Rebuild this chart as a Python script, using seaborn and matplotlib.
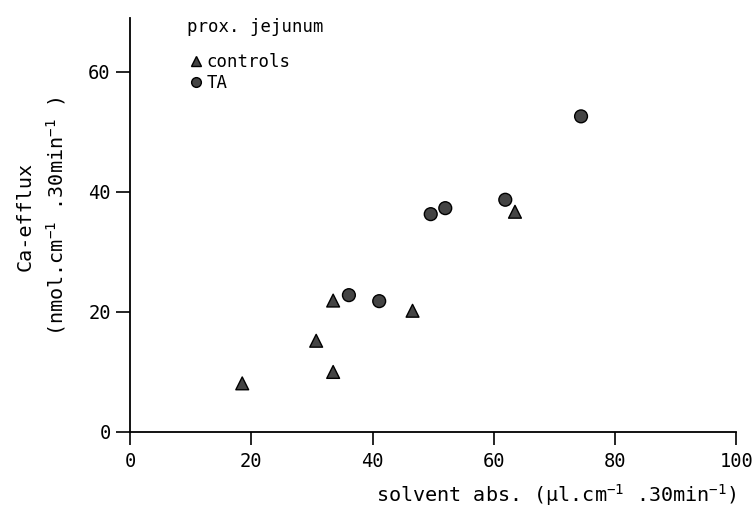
import matplotlib
matplotlib.use("Agg")
import matplotlib.pyplot as plt
import pandas as pd
import seaborn as sns

# values
ctrl_x = [18.5, 30.7, 33.5, 33.5, 46.6, 63.5]
ctrl_y = [8.1, 15.2, 21.9, 10.0, 20.2, 36.7]
ta_x = [36.1, 41.1, 49.6, 52.0, 61.9, 74.4]
ta_y = [22.8, 21.8, 36.3, 37.3, 38.7, 52.6]
groups = ["controls", "TA"]
xticks = [0, 20, 40, 60, 80, 100]
yticks = [0, 20, 40, 60]

df = pd.concat([
    pd.DataFrame({"x": ctrl_x, "y": ctrl_y, "group": groups[0]}),
    pd.DataFrame({"x": ta_x, "y": ta_y, "group": groups[1]}),
])

sns.set_style("ticks")
plt.rcParams["font.family"] = ["DejaVu Sans Mono"]
plt.rcParams["mathtext.fontset"] = "custom"
plt.rcParams["mathtext.rm"] = "DejaVu Sans Mono"
plt.rcParams["mathtext.default"] = "regular"
plt.rcParams["text.color"] = "black"
plt.rcParams["axes.labelcolor"] = "black"

fig = plt.figure(figsize=(7.52, 5.13), dpi=100)
ax = fig.add_axes([0.173, 0.158, 0.806, 0.807])

sns.scatterplot(data=df, x="x", y="y", style="group", markers={"controls": "^", "TA": "o"},
                color="#444444", edgecolor="black", linewidth=1.0, s=85, ax=ax, legend=False)

ax.set_xlim(0, 100)
ax.set_ylim(0, 69)
ax.set_xticks(xticks)
ax.set_yticks(yticks)
ax.tick_params(labelsize=13.5, width=1.2, colors="black")
ax.tick_params(axis="x", length=9.5, pad=5)
ax.tick_params(axis="y", length=10, pad=4)
sns.despine(ax=ax)
for s in ["left", "bottom"]:
    ax.spines[s].set_linewidth(1.3)
    ax.spines[s].set_color("black")

ax.set_xlabel("solvent abs. (µl.cm$^{-1}$ .30min$^{-1}$)", fontsize=14.5, loc="right", labelpad=8)
ax.set_ylabel("Ca-efflux\n(nmol.cm$^{-1}$ .30min$^{-1}$ )", fontsize=14.5, linespacing=1.5)
ax.yaxis.set_label_coords(-0.102, 0.52)

handles = [
    plt.Line2D([], [], marker="^", ls="", color="#444444", mec="black", ms=7, label="controls"),
    plt.Line2D([], [], marker="o", ls="", color="#444444", mec="black", ms=7, label="TA"),
]
leg = ax.legend(handles=handles, title="prox. jejunum", loc="upper left", bbox_to_anchor=(0.08, 1.02),
                frameon=False, fontsize=12.5, title_fontsize=12.5, handletextpad=0.1, borderpad=0,
                labelspacing=0.2, handlelength=1.0, alignment="left")
leg._legend_box.sep = 12

fig.savefig("out.png", dpi=100)
